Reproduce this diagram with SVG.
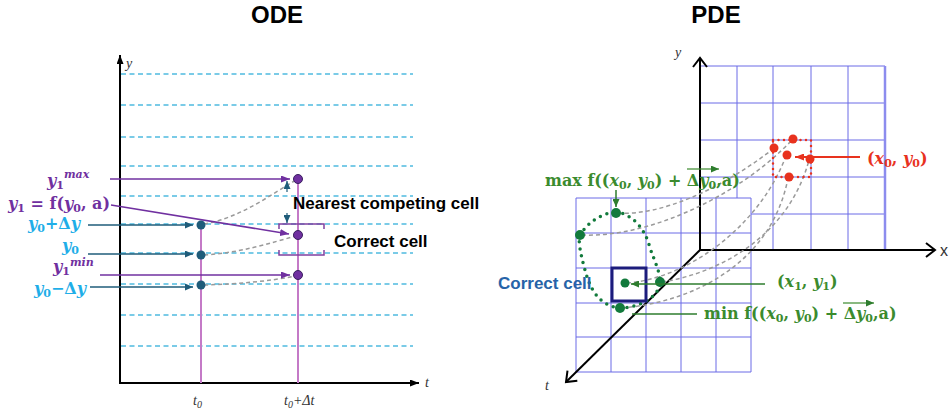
<svg xmlns="http://www.w3.org/2000/svg" width="951" height="414" viewBox="0 0 951 414">
<style>
.title{font-family:"Liberation Sans",Arial,sans-serif;font-weight:bold;font-size:24px;fill:#000;text-anchor:middle}
.cyl{stroke:#4FBBE0;stroke-width:1.3;stroke-dasharray:5 3.5;fill:none}
.ax{stroke:#000;stroke-width:2;fill:none}
.vl{stroke:#C47AC7;stroke-width:2}
.gd{stroke:#9A9A9A;stroke-width:1.5;stroke-dasharray:4 3;fill:none}
.math{font-family:"DejaVu Serif","Liberation Serif",serif;font-weight:bold;font-size:16px}
.it{font-style:italic}
.sub{font-size:11px}
.sup{font-size:11px;font-style:italic}
.sans{font-family:"Liberation Sans",Arial,sans-serif;font-weight:bold;font-size:17px}
.axl{font-family:"Liberation Serif",serif;font-style:italic;font-size:14px;fill:#333}
.grid{stroke:#6A6AE6;stroke-width:1;fill:none}
.teal{stroke:#1F5C7A;stroke-width:1.5;fill:none}
.pur{stroke:#7030A0;stroke-width:1.5;fill:none}
.grn{stroke:#2E7D2E;stroke-width:1.5;fill:none}
</style>
<defs>
<marker id="mTeal" markerUnits="userSpaceOnUse" markerWidth="8" markerHeight="7" refX="8" refY="3.5" orient="auto"><path d="M0,0 L8,3.5 L0,7 z" fill="#1F5C7A"/></marker>
<marker id="mPur" markerUnits="userSpaceOnUse" markerWidth="9" markerHeight="7" refX="9" refY="3.5" orient="auto"><path d="M0,0 L9,3.5 L0,7 z" fill="#7030A0"/></marker>
<marker id="mGrn" markerUnits="userSpaceOnUse" markerWidth="8" markerHeight="7" refX="8" refY="3.5" orient="auto"><path d="M0,0 L8,3.5 L0,7 z" fill="#2E7D2E"/></marker>
<marker id="mRed" markerUnits="userSpaceOnUse" markerWidth="9" markerHeight="7" refX="9" refY="3.5" orient="auto"><path d="M0,0 L9,3.5 L0,7 z" fill="#E8321E"/></marker>
<marker id="mBlk" markerUnits="userSpaceOnUse" markerWidth="9" markerHeight="7" refX="9" refY="3.5" orient="auto"><path d="M0,0 L9,3.5 L0,7 z" fill="#000"/></marker>
<marker id="mChev" markerUnits="userSpaceOnUse" markerWidth="14" markerHeight="16" refX="11" refY="8" orient="auto"><path d="M2,1 L11,8 L2,15" fill="none" stroke="#000" stroke-width="2"/></marker>
</defs>

<text class="title" x="277" y="23">ODE</text>
<text class="title" x="716" y="23">PDE</text>

<!-- ODE panel -->
<g id="ode-grid">
<line class="cyl" x1="121" y1="74" x2="413" y2="74"/>
<line class="cyl" x1="121" y1="105" x2="413" y2="105"/>
<line class="cyl" x1="121" y1="137" x2="413" y2="137"/>
<line class="cyl" x1="121" y1="166" x2="413" y2="166"/>
<line class="cyl" x1="121" y1="196" x2="413" y2="196"/>
<line class="cyl" x1="121" y1="224" x2="413" y2="224"/>
<line class="cyl" x1="121" y1="253" x2="413" y2="253"/>
<line class="cyl" x1="121" y1="284" x2="413" y2="284"/>
<line class="cyl" x1="121" y1="315" x2="413" y2="315"/>
<line class="cyl" x1="121" y1="346" x2="413" y2="346"/>
</g>
<g id="ode-axes">
<line class="ax" x1="120" y1="384" x2="120" y2="55" marker-end="url(#mBlk)"/>
<line class="ax" x1="119" y1="383" x2="419" y2="383" marker-end="url(#mBlk)"/>
<text class="axl" x="126" y="68">y</text>
<text class="axl" x="425" y="387">t</text>
<text class="axl" x="193" y="405">t<tspan font-size="10" dy="3">0</tspan></text>
<text class="axl" x="284" y="405">t<tspan font-size="10" dy="3">0</tspan><tspan dy="-3">+Δt</tspan></text>
</g>
<g id="ode-verticals">
<line class="vl" x1="201" y1="225" x2="201" y2="383"/>
<line class="vl" x1="298" y1="179" x2="298" y2="383"/>
</g>
<g id="ode-connectors">
<path class="gd" d="M204,224 C240,218 270,195 296,180"/>
<path class="gd" d="M204,255 C240,253 270,243 296,236"/>
<path class="gd" d="M204,285 C240,284 270,281 296,276"/>
<line class="teal" x1="88" y1="225" x2="193" y2="225" marker-end="url(#mTeal)"/>
<line class="teal" x1="88" y1="254" x2="193" y2="254" marker-end="url(#mTeal)"/>
<line class="teal" x1="90" y1="287" x2="193" y2="287" marker-end="url(#mTeal)"/>
<line class="pur" x1="110" y1="179" x2="290" y2="179" marker-end="url(#mPur)"/>
<line class="pur" x1="111" y1="205" x2="289" y2="234" marker-end="url(#mPur)"/>
<line class="pur" x1="100" y1="275" x2="290" y2="275" marker-end="url(#mPur)"/>
<line stroke="#1F5C7A" stroke-width="1.2" x1="287" y1="192" x2="287" y2="181" marker-end="url(#mTeal)"/>
<line stroke="#1F5C7A" stroke-width="1.2" x1="287" y1="213" x2="287" y2="223" marker-end="url(#mTeal)"/>
<path d="M279,229 V224 H324 V229" stroke="#8040A0" stroke-width="1.5" fill="none"/>
<path d="M279,250 V255 H324 V250" stroke="#8040A0" stroke-width="1.5" fill="none"/>
</g>
<g id="ode-dots">
<circle cx="201" cy="225" r="4.5" fill="#1F5C7A"/>
<circle cx="201" cy="255" r="4.5" fill="#1F5C7A"/>
<circle cx="201" cy="285" r="4.5" fill="#1F5C7A"/>
<circle cx="298" cy="179" r="4.5" fill="#7030A0" stroke="#3A2060" stroke-width="1"/>
<circle cx="298" cy="235" r="4.5" fill="#7030A0" stroke="#3A2060" stroke-width="1"/>
<circle cx="298" cy="275" r="4.5" fill="#7030A0" stroke="#3A2060" stroke-width="1"/>
</g>
<g id="ode-labels">
<text class="math" x="47" y="186" fill="#7030A0"><tspan class="it">y</tspan><tspan class="sub" dy="3">1</tspan><tspan class="sup" dy="-11">max</tspan></text>
<text class="math" x="8" y="209" fill="#7030A0"><tspan class="it">y</tspan><tspan class="sub" dy="3">1</tspan><tspan dy="-3"> = f(</tspan><tspan class="it">y</tspan><tspan class="sub" dy="3">0</tspan><tspan dy="-3">, a)</tspan></text>
<text class="math" x="28" y="229" fill="#1FAEE8"><tspan class="it">y</tspan><tspan class="sub" dy="3">0</tspan><tspan dy="-3">+Δ</tspan><tspan class="it">y</tspan></text>
<text class="math" x="62" y="251" fill="#1FAEE8"><tspan class="it">y</tspan><tspan class="sub" dy="3">0</tspan></text>
<text class="math" x="53" y="272" fill="#7030A0"><tspan class="it">y</tspan><tspan class="sub" dy="3">1</tspan><tspan class="sup" dy="-9">min</tspan></text>
<text class="math" x="34" y="294" fill="#1FAEE8"><tspan class="it">y</tspan><tspan class="sub" dy="3">0</tspan><tspan dy="-3">−Δ</tspan><tspan class="it">y</tspan></text>
<text class="sans" x="293" y="209" fill="#000">Nearest competing cell</text>
<text class="sans" x="334" y="247" fill="#000">Correct cell</text>
</g>

<!-- PDE panel -->
<g id="pde-back-grid">
<path class="grid" d="M700,66 H885 M700,103 H885 M700,140 H885 M700,177 H885 M700,214 H885 M737,66 V250 M773,66 V250 M811,66 V250 M848,66 V250"/>
<line x1="885" y1="66" x2="885" y2="250" stroke="#8C8CEE" stroke-width="2.5"/>
</g>
<g id="pde-front-grid">
<rect x="576" y="198" width="175" height="174" fill="#fff"/>
<path class="grid" d="M576,198 H751 M576,233 H751 M576,268 H751 M576,303 H751 M576,337 H751 M576,372 H751 M576,198 V372 M611,198 V372 M646,198 V372 M681,198 V372 M716,198 V372 M751,198 V372"/>
</g>
<g id="pde-axes">
<line class="ax" x1="700" y1="251" x2="700" y2="58" marker-end="url(#mChev)"/>
<line class="ax" x1="699" y1="250" x2="935" y2="250" marker-end="url(#mChev)"/>
<line class="ax" x1="700" y1="250" x2="566" y2="382" marker-end="url(#mChev)"/>
<text class="axl" x="675" y="57">y</text>
<text x="940" y="256" font-family="Liberation Sans, Arial, sans-serif" font-size="16" fill="#333">x</text>
<text class="axl" x="545" y="390">t</text>
</g>
<g id="pde-connectors">
<path class="gd" d="M618,213 C660,216 720,190 773,149"/>
<path class="gd" d="M582,235 C650,238 740,195 792,140"/>
<path class="gd" d="M627,283 C690,278 760,225 786,156"/>
<path class="gd" d="M662,282 C725,272 790,232 809,160"/>
<path class="gd" d="M622,308 C695,302 772,262 788,178"/>
</g>
<g id="pde-source">
<rect x="773" y="140" width="38" height="37" fill="none" stroke="#E8321E" stroke-width="2.5" stroke-dasharray="0 5.5" stroke-linecap="round"/>
<circle cx="793" cy="139" r="4.5" fill="#E8321E"/>
<circle cx="774" cy="148" r="4.5" fill="#E8321E"/>
<circle cx="787" cy="155" r="4.5" fill="#E8321E"/>
<circle cx="810" cy="159" r="4.5" fill="#E8321E"/>
<circle cx="789" cy="177" r="4.5" fill="#E8321E"/>
<line x1="860" y1="157" x2="795" y2="157" stroke="#E8321E" stroke-width="1.8" marker-end="url(#mRed)"/>
<text class="math" x="867" y="164" fill="#E8321E" font-size="17">(<tspan class="it">x</tspan><tspan class="sub" dy="3">0</tspan><tspan dy="-3">, </tspan><tspan class="it">y</tspan><tspan class="sub" dy="3">0</tspan><tspan dy="-3">)</tspan></text>
</g>
<g id="pde-target">
<path d="M616,212 C632,214 645,228 650,248 C655,262 660,272 660,282 C660,296 640,308 620,308 C600,306 590,290 585,270 C580,252 578,240 580,235 C588,222 602,213 616,212 Z" fill="none" stroke="#127A3C" stroke-width="3.5" stroke-dasharray="0 7" stroke-linecap="round"/>
<rect x="612" y="268" width="34" height="33" fill="none" stroke="#1C1C7C" stroke-width="3"/>
<circle cx="616" cy="213" r="5" fill="#127A3C"/>
<circle cx="580" cy="235" r="5" fill="#127A3C"/>
<circle cx="625" cy="283" r="4.5" fill="#127A3C"/>
<circle cx="660" cy="282" r="5" fill="#127A3C"/>
<circle cx="620" cy="308" r="5" fill="#127A3C"/>
</g>
<g id="pde-labels">
<text class="sans" x="498" y="289" fill="#2763A8" font-size="18">Correct cell</text>
<line class="grn" x1="616" y1="190" x2="616" y2="207" marker-end="url(#mGrn)"/>
<line class="grn" x1="765" y1="284" x2="631" y2="284" marker-end="url(#mGrn)"/>
<line class="grn" x1="697" y1="314" x2="632" y2="314"/>
<text class="math" x="545" y="186" fill="#3B8B2E">max f((<tspan class="it">x</tspan><tspan class="sub" dy="3">0</tspan><tspan dy="-3">, </tspan><tspan class="it">y</tspan><tspan class="sub" dy="3">0</tspan><tspan dy="-3">) + Δ</tspan><tspan class="it">y</tspan><tspan class="sub" dy="3">0</tspan><tspan dy="-3">,a)</tspan></text>
<line x1="687" y1="169" x2="719" y2="169" stroke="#3B8B2E" stroke-width="1.2" marker-end="url(#mGrn)"/>
<text class="math" x="777" y="287" fill="#3B8B2E" font-size="16.5">(<tspan class="it">x</tspan><tspan class="sub" dy="3">1</tspan><tspan dy="-3">, </tspan><tspan class="it">y</tspan><tspan class="sub" dy="3">1</tspan><tspan dy="-3">)</tspan></text>
<text class="math" x="704" y="319" fill="#3B8B2E">min f((<tspan class="it">x</tspan><tspan class="sub" dy="3">0</tspan><tspan dy="-3">, </tspan><tspan class="it">y</tspan><tspan class="sub" dy="3">0</tspan><tspan dy="-3">) + Δ</tspan><tspan class="it">y</tspan><tspan class="sub" dy="3">0</tspan><tspan dy="-3">,a)</tspan></text>
<line x1="843" y1="303" x2="874" y2="303" stroke="#3B8B2E" stroke-width="1.2" marker-end="url(#mGrn)"/>
</g>
</svg>
